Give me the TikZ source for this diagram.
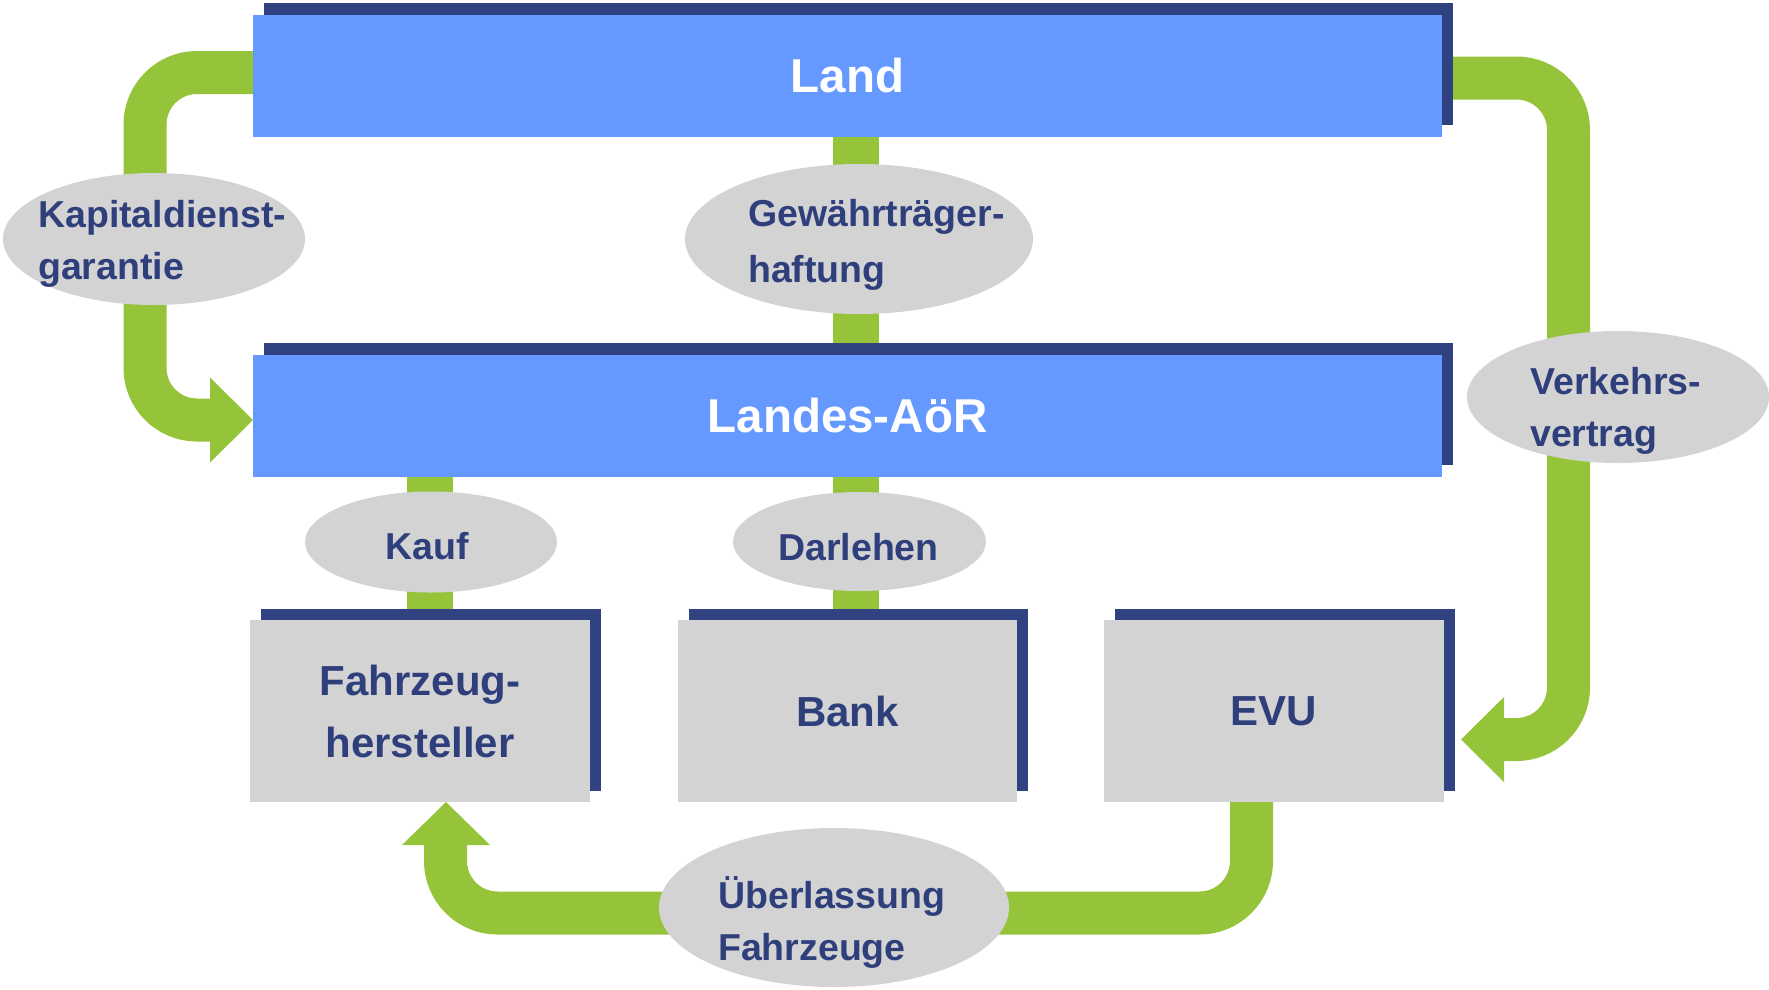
\documentclass[tikz,border=0pt]{standalone}
\usepackage{fontspec}
\setmainfont{Liberation Sans}
\usetikzlibrary{shapes.geometric,shadows,backgrounds,calc}
\definecolor{cblue}{HTML}{6699FF}
\definecolor{cnavy}{HTML}{30427F}
\definecolor{ctext}{HTML}{2F3F7C}
\definecolor{cgreen}{HTML}{95C43B}
\definecolor{cgray}{HTML}{D3D3D3}
\tikzset{
  bluebox/.style={fill=cblue, minimum width=1189pt, minimum height=122pt, inner sep=0pt, outer sep=0pt,
    text=white, font=\bfseries\fontsize{47.5}{52}\selectfont,
    general shadow={fill=cnavy, shadow xshift=10.5pt, shadow yshift=12pt}},
  graybox/.style={fill=cgray, minimum width=340pt, minimum height=182pt, inner sep=0pt, outer sep=0pt,
    text=ctext, align=center, font=\bfseries\fontsize{42}{62}\selectfont,
    general shadow={fill=cnavy, shadow xshift=11pt, shadow yshift=11pt}},
  bubble/.style={ellipse, fill=cgray, inner sep=0pt, outer sep=0pt},
  bubtext/.style={text=ctext, align=left, inner sep=0pt, font=\bfseries\fontsize{37.5}{52}\selectfont},
  flow/.style={draw=cgreen, line width=43pt, rounded corners=52pt},
  bar/.style={draw=cgreen, line width=46pt},
  head/.style={fill=cgreen},
}
\begin{document}
\begin{tikzpicture}[x=1pt,y=-1pt]
\useasboundingbox (0,0) rectangle (1769,989);

% boxes
\node[bluebox] (land) at (847.5,76) {Land};
\node[bluebox] (landes) at (847.5,416) {Landes-AöR};
\node[graybox] (fahr) at (420,711) {Fahrzeug-\\hersteller};
\node[graybox, minimum width=339pt] (bank) at (847.5,711) {Bank};
\node[graybox] (evu) at (1274,711) {EVU};

% connectors (under everything)
\begin{scope}[on background layer]
  % Land -> Landes-AoeR (left loop)
  \draw[flow] ([yshift=3.5pt]land.west) -| (145,420) -- (212,420);
  \fill[head] ([yshift=-4pt]landes.west) -- ++(-43,-42.5) -- ++(0,85) -- cycle;
  % Land -> EVU (right loop)
  \draw[flow] ([yshift=-2pt]land.east) -| (1568.5,739.5) -- (1501,739.5);
  \fill[head] ([xshift=17pt,yshift=-28.5pt]evu.east) -- ++(43,-42.5) -- ++(0,85) -- cycle;
  % EVU -> Fahrzeughersteller (bottom loop)
  \draw[flow] ([xshift=-22.5pt]evu.south) |- (445.5,913) -- (445.5,842);
  \fill[head] ([xshift=26pt]fahr.south) -- ++(-44,43) -- ++(88,0) -- cycle;
  % vertical bars
  \draw[bar] ([xshift=8.5pt]land.south) -- ([xshift=8.5pt]landes.north);
  \draw[bar] ([xshift=10pt]landes.south -| fahr.north) -- ([xshift=10pt]fahr.north);
  \draw[bar] ([xshift=8.5pt]landes.south -| bank.north) -- ([xshift=8.5pt]bank.north);
\end{scope}

% bubbles
\node[bubble, minimum width=302pt, minimum height=132pt] (kap) at (154,239) {};
\node[bubble, minimum width=348pt, minimum height=150pt] (gew) at (859,239) {};
\node[bubble, minimum width=302pt, minimum height=132pt] (verk) at (1618,397) {};
\node[bubble, minimum width=252pt, minimum height=101pt] (kauf) at (431,542) {};
\node[bubble, minimum width=253pt, minimum height=99pt] (darl) at (859.5,541.5) {};
\node[bubble, minimum width=350pt, minimum height=159pt] (ueb) at (834,907.5) {};

% bubble texts
\node[bubtext, anchor=west] (kapt) at (38,243.5) {Kapitaldienst-\\garantie};
\node[bubtext, anchor=west, font=\bfseries\fontsize{37.5}{56}\selectfont] (gewt) at (748,244.5) {Gewährträger-\\haftung};
\node[bubtext, anchor=west] (verkt) at (1530,411) {Verkehrs-\\vertrag};
\node[bubtext] (kauft) at (427,545.8) {Kauf};
\node[bubtext] (darlt) at (858.5,546.8) {Darlehen};
\node[bubtext, anchor=west] (uebt) at (718,922.5) {Überlassung\\Fahrzeuge};
\end{tikzpicture}
\end{document}
